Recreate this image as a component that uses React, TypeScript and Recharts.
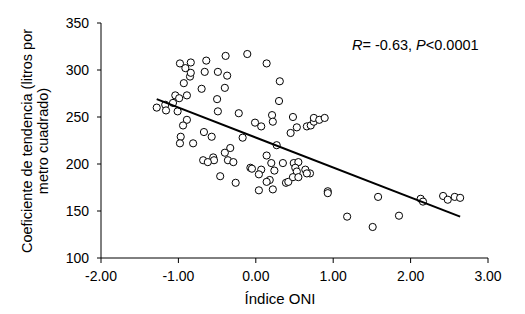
import { ScatterChart, Scatter, XAxis, YAxis } from 'recharts';

// Índice ONI (x) y coeficiente de tendencia (y)
const oniIndex = [
    -1.28, -1.17, -1.16, -1.07, -1.04, -0.99, -1.01, -0.89, -0.93, -0.85,
    -0.84, -0.91, -0.98, -0.84, -0.64, -0.66, -0.49, -0.37, -0.39, -0.11,
    0.14, 0.31, 0.30, -0.70, -0.40, -0.50, -0.49, -0.22, 0.21, 0.22,
    -0.01, 0.07, 0.48, 0.53, 0.45, 0.66, 0.71, 0.75, 0.75, 0.82,
    0.89, -0.89, -0.94, -0.67, -0.57, -0.17, -0.97, -0.98, -0.81, -0.33,
    0.27, -0.40, -0.68, -0.55, -0.54, -0.62, -0.36, -0.29, -0.46, -0.26,
    -0.07, -0.05, 0.07, 0.04, 0.14, 0.20, 0.24, 0.35, 0.18, 0.14,
    0.04, 0.22, 0.39, 0.42, 0.49, 0.55, 0.51, 0.53, 0.48, 0.55,
    0.64, 0.70, 0.66, 0.93, 0.93, 1.18, 1.51, 1.58, 1.85, 2.13,
    2.16, 2.42, 2.48, 2.57, 2.64,
];
const trendCoef = [
    260, 263, 257, 265, 273, 270, 256, 273, 286, 293,
    297, 302, 307, 308, 310, 298, 298, 294, 315, 317,
    307, 288, 267, 280, 281, 269, 256, 254, 252, 245,
    244, 240, 250, 239, 233, 240, 241, 245, 249, 247,
    249, 247, 241, 234, 229, 228, 229, 222, 222, 217,
    220, 212, 204, 207, 204, 202, 204, 202, 187, 180,
    196, 195, 194, 189, 209, 201, 193, 201, 183, 181,
    172, 173, 180, 181, 201, 202, 196, 192, 186, 186,
    194, 190, 190, 171, 169, 144, 133, 165, 145, 163,
    160, 166, 162, 165, 164,
];

// recta de regresión (extremos)
const fitX = [-1.28, 2.64];
const fitY = [269, 144];

const xTicks = [-2, -1, 0, 1, 2, 3];
const yTicks = [100, 150, 200, 250, 300, 350];

const points = oniIndex.map((x, i) => ({ x, y: trendCoef[i] }));
const fitLine = fitX.map((x, i) => ({ x, y: fitY[i] }));

const FONT = '"Liberation Sans", Arial, sans-serif';

const OpenCircle = (props: any) => (
    <circle cx={props.cx} cy={props.cy} r={3.6} fill="#fff" stroke="#000" strokeWidth={1} />
);

export default function App() {
    return (
        <div style={{ position: 'absolute', left: 0, top: 0, width: 525, height: 314, background: '#fff', fontFamily: FONT }}>
            <ScatterChart width={525} height={314} margin={{ top: 23, right: 37, left: 41, bottom: 16 }}>
                <XAxis
                    type="number"
                    dataKey="x"
                    domain={[-2, 3]}
                    ticks={xTicks}
                    tickFormatter={(v: number) => v.toFixed(2)}
                    height={40}
                    tick={{ fill: '#000', fontSize: 14, fontFamily: FONT }}
                    tickSize={5}
                    tickMargin={8}
                    axisLine={{ stroke: '#000' }}
                    tickLine={{ stroke: '#000' }}
                />
                <YAxis
                    type="number"
                    dataKey="y"
                    domain={[100, 350]}
                    ticks={yTicks}
                    width={60}
                    tick={{ fill: '#000', fontSize: 14, fontFamily: FONT }}
                    tickSize={4}
                    tickMargin={8}
                    axisLine={{ stroke: '#000' }}
                    tickLine={{ stroke: '#000' }}
                />
                <Scatter data={points} shape={OpenCircle} isAnimationActive={false} />
                <Scatter
                    data={fitLine}
                    line={{ stroke: '#000', strokeWidth: 2 }}
                    shape={() => <g />}
                    isAnimationActive={false}
                />
            </ScatterChart>
            <svg
                width={525}
                height={314}
                style={{ position: 'absolute', left: 0, top: 0, pointerEvents: 'none' }}
                fontFamily={FONT}
            >
                <g transform="translate(27,141) rotate(-90)">
                    <text textAnchor="middle" dominantBaseline="central" fontSize={14.5} fill="#000">
                        Coeficiente de tendencia (litros por
                    </text>
                </g>
                <g transform="translate(43,141) rotate(-90)">
                    <text textAnchor="middle" dominantBaseline="central" fontSize={14.5} fill="#000">
                        metro cuadrado)
                    </text>
                </g>
                <text x={280} y={298} textAnchor="middle" dominantBaseline="central" fontSize={15} fill="#000">
                    Índice ONI
                </text>
                <text x={352} y={45} dominantBaseline="central" fontSize={14.5} fill="#000">
                    <tspan fontStyle="italic">R</tspan>= -0.63, <tspan fontStyle="italic">P</tspan>&lt;0.0001
                </text>
            </svg>
        </div>
    );
}
